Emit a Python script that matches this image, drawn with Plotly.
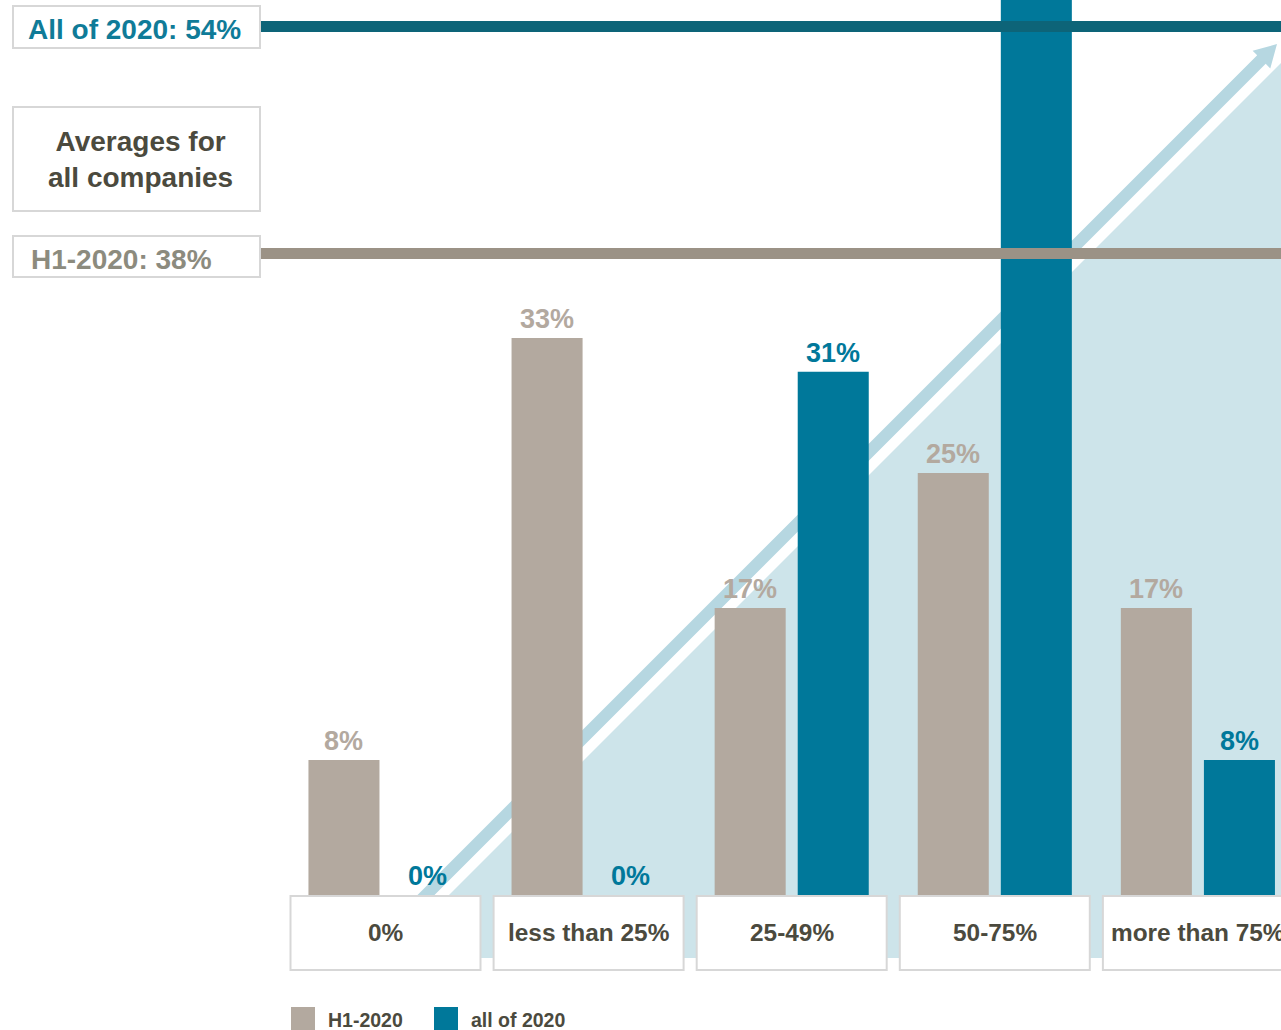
import plotly.graph_objects as go
import math

# ---------------- data ----------------
categories = ["0%", "less than 25%", "25-49%", "50-75%", "more than 75%"]
series_names = ["H1-2020", "all of 2020"]
h1_2020 = [8, 33, 17, 25, 17]
all_2020 = [0, 0, 31, 61, 8]
avg_h1_label = "H1-2020"
avg_h1 = 38
avg_all_label = "All of 2020"
avg_all = 54
avg_title = "Averages for<br>all companies"

# ---------------- styling ----------------
W, H = 1281, 1030
FONT = "Liberation Sans, Arial, sans-serif"
C_H1 = "#b3a99f"
C_ALL = "#00789a"
C_TEXT = "#4b4a3e"
C_H1_TEXT = "#8c8b7e"
C_ALL_TEXT = "#0f7b98"
C_H1_LINE = "#9b9286"
C_ALL_LINE = "#0d6478"
C_TRI = "#cde4ea"
C_ARROW = "#b6d7e1"
C_BORDER = "#d7d7d7"

BASE_PX = 895.0
PX_PER_PCT = 16.88
CAT0_PX = 385.5
CAT_PX = 203.1
BARGAP = 0.182
BARGROUPGAP = 0.145

y_top = BASE_PX / PX_PER_PCT
y_bot = -(H - BASE_PX) / PX_PER_PCT
x_left = -CAT0_PX / CAT_PX
x_right = (W - CAT0_PX) / CAT_PX


def px(x):
    return x / W


def py(y):
    return 1 - y / H


def dy(ypx):
    return (BASE_PX - ypx) / PX_PER_PCT


fig = go.Figure()
fig.add_trace(go.Bar(x=categories, y=h1_2020, name=series_names[0],
                     marker=dict(color=C_H1, line=dict(width=0)),
                     hoverinfo="skip", showlegend=False))
fig.add_trace(go.Bar(x=categories, y=all_2020, name=series_names[1],
                     marker=dict(color=C_ALL, line=dict(width=0)),
                     hoverinfo="skip", showlegend=False))

shapes = []
annotations = []

# background triangle
tri = [(386, 958), (W, 958), (W, 63)]
path = "M " + " L ".join(f"{px(a):.5f},{py(b):.5f}" for a, b in tri) + " Z"
shapes.append(dict(type="path", xref="paper", yref="paper", path=path,
                   fillcolor=C_TRI, line=dict(width=0), layer="below"))

# arrow
S = (395.0, 926.0)
T = (1277.0, 44.0)
L = math.hypot(T[0] - S[0], T[1] - S[1])
d = ((T[0] - S[0]) / L, (T[1] - S[1]) / L)
n = (-d[1], d[0])
hw, hh, hl = 6.0, 12.5, 22.0
B = (T[0] - d[0] * hl, T[1] - d[1] * hl)
pts = [
    (S[0] + n[0] * hw, S[1] + n[1] * hw),
    (B[0] + n[0] * hw, B[1] + n[1] * hw),
    (B[0] + n[0] * hh, B[1] + n[1] * hh),
    T,
    (B[0] - n[0] * hh, B[1] - n[1] * hh),
    (B[0] - n[0] * hw, B[1] - n[1] * hw),
    (S[0] - n[0] * hw, S[1] - n[1] * hw),
]
path = "M " + " L ".join(f"{px(a):.5f},{py(b):.5f}" for a, b in pts) + " Z"
shapes.append(dict(type="path", xref="paper", yref="paper", path=path,
                   fillcolor=C_ARROW, line=dict(width=0), layer="below"))

# category boxes + labels
half = 190 / CAT_PX / 2
for i, c in enumerate(categories):
    shapes.append(dict(type="rect", xref="x", yref="y", x0=i - half, x1=i + half,
                       y0=dy(896), y1=dy(970), fillcolor="white",
                       line=dict(color=C_BORDER, width=2), layer="above"))
    annotations.append(dict(x=i, y=dy(932), xref="x", yref="y", text=f"<b>{c}</b>",
                            showarrow=False, xanchor="center", yanchor="middle",
                            font=dict(family=FONT, size=24.4, color=C_TEXT)))

# average lines
shapes.append(dict(type="line", xref="paper", yref="y", x0=px(261), x1=1,
                   y0=avg_h1, y1=avg_h1, line=dict(color=C_H1_LINE, width=11),
                   layer="above"))
shapes.append(dict(type="line", xref="paper", yref="paper", x0=px(261), x1=1,
                   y0=py(26.5), y1=py(26.5), line=dict(color=C_ALL_LINE, width=11),
                   layer="above"))

# left boxes
for (y0, y1) in [(6, 48), (107, 211), (236, 277)]:
    shapes.append(dict(type="rect", xref="paper", yref="paper", x0=px(13), x1=px(260),
                       y0=py(y0), y1=py(y1), fillcolor="white",
                       line=dict(color=C_BORDER, width=2), layer="above"))
annotations.append(dict(x=px(26), y=py(30), xref="paper", yref="paper",
                        text=f"<b>{avg_all_label}: {avg_all}%</b>", showarrow=False,
                        xanchor="left", yanchor="middle",
                        font=dict(family=FONT, size=28, color=C_ALL_TEXT)))
annotations.append(dict(x=px(140), y=py(159), xref="paper", yref="paper",
                        text=f"<b>{avg_title}</b>", showarrow=False, align="center",
                        xanchor="center", yanchor="middle",
                        font=dict(family=FONT, size=28, color=C_TEXT)))
annotations.append(dict(x=px(29), y=py(259), xref="paper", yref="paper",
                        text=f"<b>{avg_h1_label}: {avg_h1}%</b>", showarrow=False,
                        xanchor="left", yanchor="middle",
                        font=dict(family=FONT, size=28, color=C_H1_TEXT)))

# bar value labels
slot = (1 - BARGAP) / 2
for si, (vals, col) in enumerate([(h1_2020, C_H1), (all_2020, C_ALL)]):
    off = -slot / 2 if si == 0 else slot / 2
    for i, v in enumerate(vals):
        if v > y_top:
            continue
        annotations.append(dict(x=i + off, y=v, xref="x", yref="y",
                                text=f"<b>{v}%</b>", showarrow=False,
                                xanchor="center", yanchor="bottom", yshift=2,
                                font=dict(family=FONT, size=27, color=col)))

# custom legend
for (x0, name, col) in [(291, series_names[0], C_H1), (434, series_names[1], C_ALL)]:
    shapes.append(dict(type="rect", xref="paper", yref="paper", x0=px(x0), x1=px(x0 + 24),
                       y0=py(1007), y1=py(1032), fillcolor=col, line=dict(width=0),
                       layer="above"))
    annotations.append(dict(x=px(x0 + 35), y=py(1020), xref="paper", yref="paper",
                            text=f"<b>{name}</b>", showarrow=False,
                            xanchor="left", yanchor="middle",
                            font=dict(family=FONT, size=19.5, color=C_TEXT)))

fig.update_layout(
    width=W, height=H, autosize=False,
    margin=dict(l=0, r=0, t=0, b=0, pad=0),
    paper_bgcolor="white", plot_bgcolor="white",
    barmode="group", bargap=BARGAP, bargroupgap=BARGROUPGAP,
    xaxis=dict(type="category", range=[x_left, x_right], visible=False,
               showgrid=False, zeroline=False, fixedrange=True),
    yaxis=dict(range=[y_bot, y_top], visible=False, showgrid=False,
               zeroline=False, fixedrange=True),
    shapes=shapes, annotations=annotations, showlegend=False,
    font=dict(family=FONT),
)

fig.write_html(
    "out.html",
    config={"displayModeBar": False},
    post_script="document.body.style.margin='0';document.body.style.overflow='hidden';",
)
